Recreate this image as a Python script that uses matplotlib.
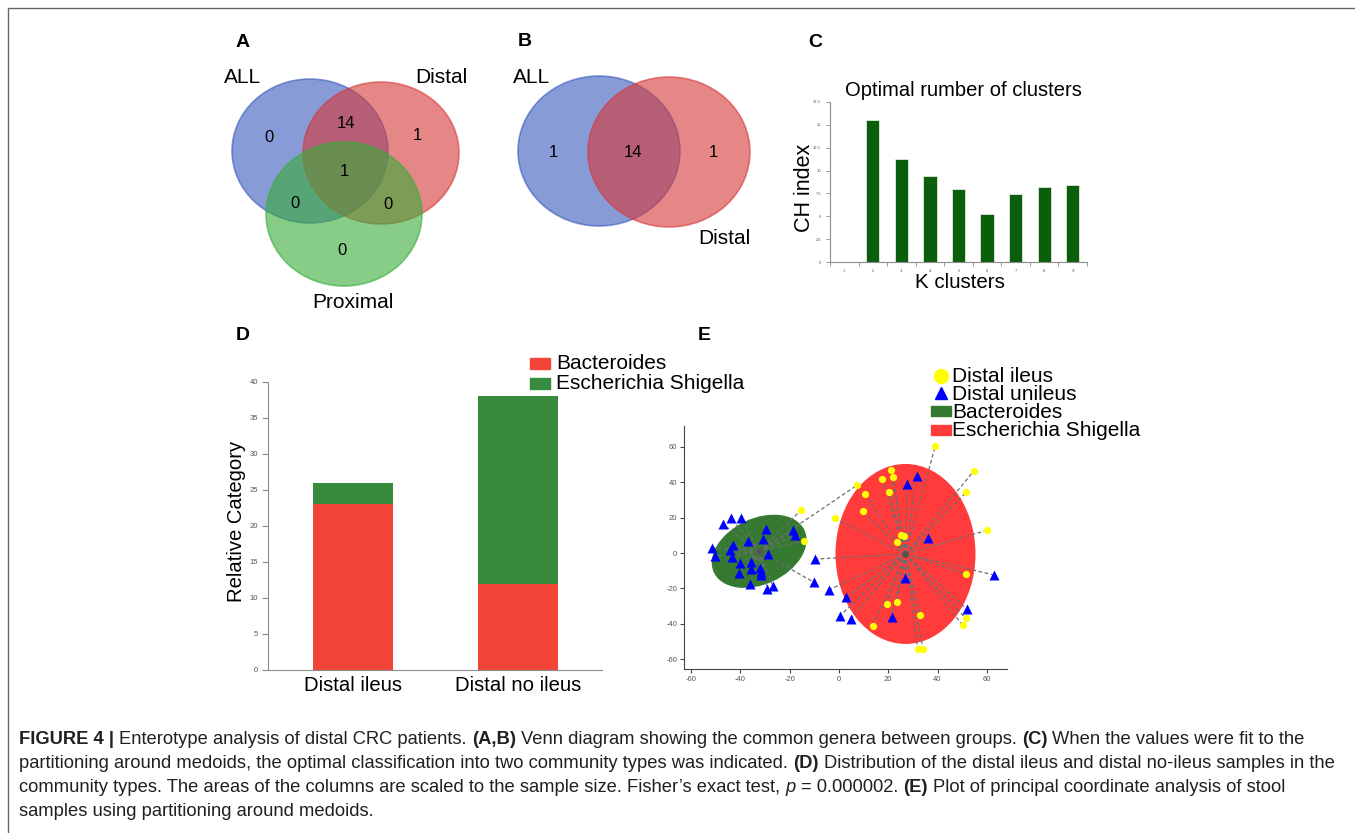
"""
Figure 4 - Enterotype analysis of distal CRC patients.
Venn diagrams (A, B), CH index per k (C), stacked bars (D) and PCoA with PAM clusters (E).
"""

import numpy as np
import matplotlib
matplotlib.use("Agg")
import matplotlib.pyplot as plt
from matplotlib import font_manager
from matplotlib.patches import Ellipse, Rectangle
from matplotlib.transforms import ScaledTranslation

# --- DATA ---
# A: three-set Venn (region key = membership in ALL, Distal, Proximal)
VENN3_SETS = ["ALL", "Distal", "Proximal"]
VENN3_COUNTS = {"100": 0, "010": 1, "001": 0, "110": 14,
                "101": 0, "011": 0, "111": 1}

# B: two-set Venn
VENN2_SETS = ["ALL", "Distal"]
VENN2_COUNTS = {"10": 1, "11": 14, "01": 1}

# C: Calinski-Harabasz index by number of clusters
K_CLUSTERS = [1, 2, 3, 4, 5, 6, 7, 8, 9]
CH_INDEX = [np.nan, 15.5, 11.25, 9.4, 8.0, 5.2, 7.4, 8.2, 8.4]

# D: community types per group
GROUPS = ["Distal ileus", "Distal no ileus"]
BACTEROIDES = [23, 12]
ESCHERICHIA = [3, 26]

# E: PCoA coordinates, cluster 0 = Bacteroides, 1 = Escherichia Shigella
ILEUS_X = [-15.4, -14.1, -1.6, 7.2, 39.1, 54.8, 51.6, 59.9, 51.4, 51.5, 50.2,
           32.9, 32.0, 34.1, 23.5, 19.3, 13.7, 23.4, 25.0, 26.4, 21.1, 22.0,
           17.6, 20.4, 10.4, 9.6]
ILEUS_Y = [24.3, 6.8, 19.6, 38.2, 60.5, 46.5, 34.3, 12.8, -11.7, -36.9, -40.7,
           -35.2, -54.2, -54.2, -27.7, -28.8, -41.2, 6.4, 10.2, 9.8, 46.9, 43.1,
           42.0, 34.3, 33.5, 23.7]
ILEUS_CLUSTER = [0, 0, 1, 0, 1, 1, 1, 1, 1, 1, 1, 1, 1, 1, 1, 1, 1, 1, 1, 1,
                 1, 1, 1, 1, 1, 1]

UNILEUS_X = [-47.2, -43.9, -39.9, -29.6, -18.5, -17.8, -36.9, -31.0, -51.4,
             -42.9, -44.2, -50.3, -43.3, -28.8, -35.6, -40.2, -35.6, -31.9,
             -31.6, -40.7, -31.8, -36.1, -26.9, -29.1, -9.7, -10.0, -4.2,
             27.6, 31.6, 36.0, 26.9, 63.0, 52.1, 21.6, 4.7, 0.4, 3.0]
UNILEUS_Y = [16.4, 19.6, 19.6, 13.4, 13.0, 10.2, 7.0, 8.1, 3.0, 4.5, 1.7,
             -1.7, -2.1, -0.7, -4.9, -5.8, -9.2, -8.3, -10.5, -11.5, -12.4,
             -17.5, -18.6, -20.5, -3.4, -16.6, -20.9, 39.0, 43.5, 8.3, -14.3,
             -12.4, -31.8, -36.3, -37.1, -35.4, -24.9]
UNILEUS_CLUSTER = [0] * 24 + [1, 0, 1] + [1] * 10

MEDOID_X = [-32.4, 27.0]
MEDOID_Y = [1.0, -0.5]
CLUSTER_NAMES = ["Bacteroides", "Escherichia Shigella"]

CAPTION = [
    [("FIGURE 4 | ", "bold", "normal"),
     ("Enterotype analysis of distal CRC patients. ", "normal", "normal"),
     ("(A,B)", "bold", "normal"),
     (" Venn diagram showing the common genera between groups. ", "normal", "normal"),
     ("(C)", "bold", "normal"),
     (" When the values were fit to the", "normal", "normal")],
    [("partitioning around medoids, the optimal classification into two community "
      "types was indicated. ", "normal", "normal"),
     ("(D)", "bold", "normal"),
     (" Distribution of the distal ileus and distal no-ileus samples in the", "normal", "normal")],
    [("community types. The areas of the columns are scaled to the sample size. "
      "Fisher\u2019s exact test, ", "normal", "normal"),
     ("p", "normal", "italic"),
     (" = 0.000002. ", "normal", "normal"),
     ("(E)", "bold", "normal"),
     (" Plot of principal coordinate analysis of stool", "normal", "normal")],
    [("samples using partitioning around medoids.", "normal", "normal")],
]

# --- STYLE ---
W, H, DPI = 1355, 833, 100
VENN_BLUE = (0.22, 0.35, 0.74)
VENN_RED = (0.84, 0.22, 0.22)
VENN_GREEN = (0.22, 0.68, 0.22)
BAR_RED = "#f24437"
BAR_GREEN = "#388a3c"
ELL_GREEN = "#367a32"
ELL_RED = "#ff3b3b"
AXIS_GRAY = "#8c8c8c"
TICK_GRAY = "#555555"

plt.rcParams["font.family"] = ["Liberation Sans", "DejaVu Sans"]
plt.rcParams["axes.unicode_minus"] = False

installed = {f.name for f in font_manager.fontManager.ttflist}
NARROW = "Liberation Sans Narrow" in installed
CAPTION_FONT = ["Liberation Sans Narrow", "Liberation Sans"] if NARROW else ["Liberation Sans"]
CAPTION_SIZE = 14.5 if NARROW else 13.2


def px_axes(fig, left, top, right, bottom):
    """Axes placed by pixel edges (origin top-left)."""
    return fig.add_axes([left / W, 1 - bottom / H, (right - left) / W, (bottom - top) / H])


def draw_venn(bg, centers, radii, colors, names, name_pos, counts, count_pos):
    for (cx, cy), (rx, ry), col in zip(centers, radii, colors):
        bg.add_patch(Ellipse((cx, cy), 2 * rx, 2 * ry, facecolor=col, alpha=0.6,
                             edgecolor=col, lw=1.2, zorder=2))
    for name, (x, y) in zip(names, name_pos):
        bg.text(x, y, name, fontsize=15, ha="center", va="center", zorder=5)
    for key, (x, y) in count_pos.items():
        bg.text(x, y, str(counts[key]), fontsize=12, ha="center", va="center", zorder=5)


def main():
    fig = plt.figure(figsize=(W / DPI, H / DPI), dpi=DPI)
    bg = fig.add_axes([0, 0, 1, 1])
    bg.set_xlim(0, W)
    bg.set_ylim(H, 0)
    bg.axis("off")
    # frame runs off the right and bottom edges, as in the page crop
    bg.add_patch(Rectangle((8, 8), W + 20, H + 20, fill=False, edgecolor="#666666",
                           lw=1, clip_on=False))

    # panel letters
    for lab, x, y in [("A", 243, 42), ("B", 525, 41), ("C", 815, 42),
                      ("D", 243, 335), ("E", 704, 335)]:
        bg.text(x, y, lab, fontsize=14, fontweight="bold", ha="center", va="center")

    # --- A ---
    draw_venn(bg,
              centers=[(310, 151), (381, 153), (344, 214)],
              radii=[(78, 72), (78, 71), (78, 72)],
              colors=[VENN_BLUE, VENN_RED, VENN_GREEN],
              names=VENN3_SETS,
              name_pos=[(243, 77), (441, 77), (353, 302)],
              counts=VENN3_COUNTS,
              count_pos={"100": (269, 137), "110": (346, 123), "010": (417, 135),
                         "111": (344, 171), "101": (295, 203), "011": (388, 204),
                         "001": (342, 250)})

    # --- B ---
    draw_venn(bg,
              centers=[(599, 151), (669, 152)],
              radii=[(81, 75), (81, 75)],
              colors=[VENN_BLUE, VENN_RED],
              names=VENN2_SETS,
              name_pos=[(532, 77), (724, 238)],
              counts=VENN2_COUNTS,
              count_pos={"10": (553, 152), "11": (633, 152), "01": (713, 152)})

    # --- C ---
    axc = px_axes(fig, 830, 102, 1087, 262)
    axc.set_facecolor("none")
    axc.bar(K_CLUSTERS, CH_INDEX, width=0.46, color="#0b5e0b", edgecolor="#dfe8df", lw=0.6)
    axc.set_xlim(0.5, 9.5)
    axc.set_ylim(0, 17.5)
    axc.set_yticks(np.arange(0, 17.6, 2.5))
    axc.set_yticklabels([f"{v:g}" for v in np.arange(0, 17.6, 2.5)])
    axc.set_xticks(np.arange(0.5, 9.6, 1))
    axc.set_xticklabels([])
    axc.set_xticks(K_CLUSTERS, minor=True)
    axc.set_xticklabels([str(k) for k in K_CLUSTERS], minor=True)
    axc.tick_params(axis="x", which="minor", length=0, pad=5)
    axc.tick_params(axis="both", which="major", length=3, width=0.6, color=AXIS_GRAY)
    axc.tick_params(axis="both", which="both", labelsize=3, labelcolor=TICK_GRAY)
    for s in ["top", "right"]:
        axc.spines[s].set_visible(False)
    for s in ["left", "bottom"]:
        axc.spines[s].set_color(AXIS_GRAY)
        axc.spines[s].set_linewidth(0.8)
    bg.text(963, 90, "Optimal rumber of clusters", fontsize=14.5, ha="center", va="center")
    bg.text(960, 283, "K clusters", fontsize=14.8, ha="center", va="center")
    bg.text(805, 188, "CH index", fontsize=15.5, ha="center", va="center", rotation=90)

    # --- D ---
    axd = px_axes(fig, 268, 382, 602, 670)
    axd.set_facecolor("none")
    xpos = np.arange(len(GROUPS))
    axd.bar(xpos, BACTEROIDES, width=0.485, color=BAR_RED)
    axd.bar(xpos, ESCHERICHIA, bottom=BACTEROIDES, width=0.485, color=BAR_GREEN)
    axd.set_xlim(-0.515, 1.51)
    axd.set_ylim(0, 40)
    axd.set_yticks(range(0, 41, 5))
    axd.set_xticks(xpos)
    axd.set_xticklabels(GROUPS, fontsize=14.6, color="black")
    axd.tick_params(axis="x", length=0, pad=4)
    axd.tick_params(axis="y", length=4, width=0.8, color=AXIS_GRAY, labelsize=5.5,
                    labelcolor=TICK_GRAY, pad=3)
    for s in ["top", "right"]:
        axd.spines[s].set_visible(False)
    for s in ["left", "bottom"]:
        axd.spines[s].set_color(AXIS_GRAY)
    bg.text(236, 521, "Relative Category", fontsize=14.6, rotation=90,
            ha="center", va="center")
    for i, (name, col) in enumerate([("Bacteroides", BAR_RED),
                                     ("Escherichia Shigella", BAR_GREEN)]):
        yc = 363 + 20.5 * i
        bg.add_patch(Rectangle((530, yc - 5.5), 20, 11, color=col))
        bg.text(556, yc, name, fontsize=15, ha="left", va="center")

    # --- E ---
    axe = px_axes(fig, 684, 426, 1007, 669)
    axe.set_facecolor("none")
    axe.set_xlim(-62.9, 68.2)
    axe.set_ylim(-65.5, 71.8)
    ell_params = [(100, 66, 25, ELL_GREEN), (140, 180, 0, ELL_RED)]
    for (mx, my), (w, h, ang, col) in zip(zip(MEDOID_X, MEDOID_Y), ell_params):
        tr = fig.dpi_scale_trans + ScaledTranslation(mx, my, axe.transData)
        axe.add_patch(Ellipse((0, 0), w / DPI, h / DPI, angle=ang, transform=tr,
                              facecolor=col, edgecolor="none", zorder=1))
    for xs, ys, cl in [(ILEUS_X, ILEUS_Y, ILEUS_CLUSTER),
                       (UNILEUS_X, UNILEUS_Y, UNILEUS_CLUSTER)]:
        for x, y, c in zip(xs, ys, cl):
            axe.plot([MEDOID_X[c], x], [MEDOID_Y[c], y], color="#6e6e6e", lw=0.9,
                     dashes=(3, 2), zorder=2)
    axe.plot(MEDOID_X, MEDOID_Y, "o", color="#555555", ms=4, zorder=3)
    axe.plot(ILEUS_X, ILEUS_Y, "o", color="#ffff00", mec="none", ms=5.2, zorder=4)
    axe.plot(UNILEUS_X, UNILEUS_Y, "^", color="#0000ff", mec="none", ms=6.5, zorder=4)
    axe.set_xticks(range(-60, 61, 20))
    axe.set_yticks(range(-60, 61, 20))
    axe.tick_params(length=3, width=0.8, color="#444444", labelsize=5.5,
                    labelcolor=TICK_GRAY, pad=2)
    for s in ["top", "right"]:
        axe.spines[s].set_visible(False)
    for s in ["left", "bottom"]:
        axe.spines[s].set_color("#444444")

    # legend E
    bg.plot([941], [376], "o", color="#ffff00", ms=10)
    bg.plot([941], [393], "^", color="#0000ff", ms=8)
    for i, col in enumerate([ELL_GREEN, ELL_RED]):
        yc = 411 + 19 * i
        bg.add_patch(Rectangle((931, yc - 5), 20, 10, color=col))
    for i, name in enumerate(["Distal ileus", "Distal unileus"] + CLUSTER_NAMES):
        bg.text(952, 376 + 18 * i, name, fontsize=15, ha="left", va="center")

    # --- caption ---
    renderer = fig.canvas.get_renderer()

    def run_width(s, weight, style):
        t = bg.text(0, 0, s, fontsize=CAPTION_SIZE, family=CAPTION_FONT,
                    fontweight=weight, fontstyle=style)
        w = t.get_window_extent(renderer).width
        t.remove()
        return w

    space_w = run_width("a a", "normal", "normal") - run_width("aa", "normal", "normal")
    for li, runs in enumerate(CAPTION):
        x = 19
        y = 744 + 24 * li
        for s, weight, style in runs:
            lead = len(s) - len(s.lstrip(" "))
            trail = len(s) - len(s.rstrip(" "))
            core = s.strip(" ")
            x += lead * space_w
            t = bg.text(x, y, core, fontsize=CAPTION_SIZE, family=CAPTION_FONT,
                        fontweight=weight, fontstyle=style, color="#231f20",
                        ha="left", va="baseline")
            x += t.get_window_extent(renderer).width + trail * space_w

    fig.savefig("out.png", dpi=DPI)
    plt.close(fig)


if __name__ == "__main__":
    main()
